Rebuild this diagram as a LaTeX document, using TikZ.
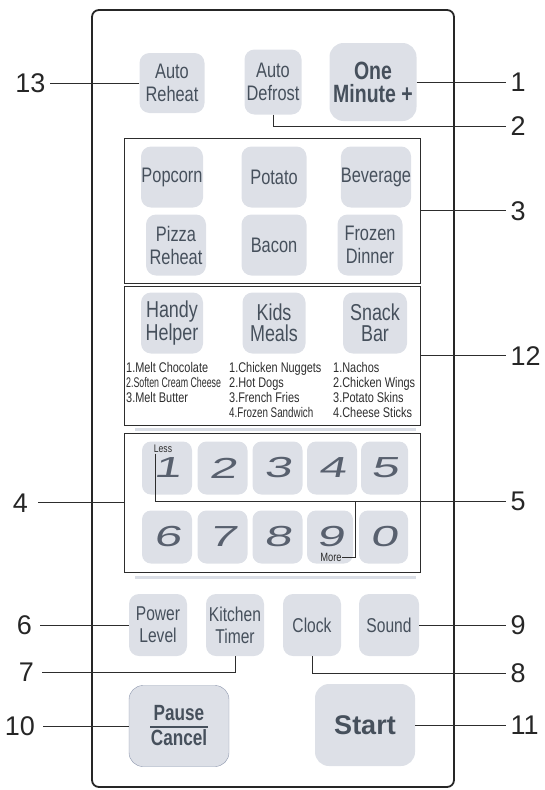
\documentclass[tikz,border=0pt]{standalone}
\usepackage{fontspec}
\usepackage{graphicx}
\setmainfont{Liberation Sans}
\newfontfamily\keyfont[FakeStretch=0.78]{Liberation Sans}
\newfontfamily\digitfont[FakeStretch=1.7,FakeSlant=0.2]{Liberation Sans}
\usetikzlibrary{positioning}
\definecolor{keyfill}{RGB}{221,224,231}
\definecolor{keytext}{RGB}{70,80,92}
\definecolor{digit}{RGB}{88,96,110}
\definecolor{lineclr}{RGB}{45,45,45}
\definecolor{sepclr}{RGB}{218,222,230}
\definecolor{pauseedge}{RGB}{140,150,172}
\tikzset{
  btn/.style={fill=keyfill, rounded corners=10pt, text=keytext, align=center, inner sep=0pt,
    minimum width=62pt, minimum height=61pt, font=\keyfont\fontsize{21}{23}\selectfont},
  lowbtn/.style={btn, minimum width=58pt, minimum height=62pt, font=\keyfont\fontsize{20}{22}\selectfont},
  meal/.style={btn, font=\keyfont\fontsize{23}{21}\selectfont},
  numkey/.style={btn, rounded corners=9pt, minimum width=50pt, minimum height=53pt, text=digit,
    font=\digitfont\fontsize{29}{29}\selectfont},
  group/.style={draw=lineclr, line width=0.9pt, minimum width=296pt},
  menu/.style={anchor=north west, align=left, inner sep=0pt, text=lineclr,
    font=\keyfont\fontsize{14}{15}\selectfont},
  callout/.style={font=\fontsize{27}{27}\selectfont, text=black!85, inner sep=4.5pt},
  lead/.style={draw=lineclr, line width=0.9pt},
  sep/.style={draw=sepclr, line width=3pt}
}

\begin{document}
\begin{tikzpicture}[x=1pt,y=-1pt]
  \useasboundingbox (0,0) rectangle (544,790);
  \node[draw=black!85, line width=1.8pt, rounded corners=7pt, minimum width=362pt,
    minimum height=777pt, inner sep=0pt] (panel) at (273,398.5) {};

  % top row
  \node[btn, minimum width=65pt, minimum height=60pt] (reheat) at (172,83) {Auto\\Reheat};
  \node[btn, minimum width=57pt, minimum height=65pt] (defrost) at (273,82) {Auto\\Defrost};
  \node[btn, minimum width=87pt, minimum height=78pt, rounded corners=14pt,
    font=\keyfont\bfseries\fontsize{25}{23}\selectfont] (oneminute) at (373,82) {One\\Minute +};

  % cook keys
  \node[group, minimum height=145pt] (cookbox) at (272,210.5) {};
  \node[btn] (popcorn) at (172,177) {Popcorn};
  \node[btn, minimum width=65pt] (potato) at (274,177) {Potato};
  \node[btn, minimum width=66pt] (beverage) at (376,177) {Beverage};
  \node[btn, minimum width=60pt] (pizza) at (176,245) {Pizza\\Reheat};
  \node[btn, minimum width=65pt] (bacon) at (274,245) {Bacon};
  \node[btn, minimum width=65pt] (frozen) at (370,245) {Frozen\\Dinner};

  % helper keys
  \node[group, minimum height=139pt] (helperbox) at (272,355.5) {};
  \node[meal] (handy) at (172,323) {Handy\\Helper};
  \node[meal, minimum width=63pt] (kids) at (274,323) {Kids\\Meals};
  \node[meal, minimum width=64pt] (snack) at (375,323) {Snack\\Bar};
  \node[menu] (handylist) at (126,362) {1.Melt Chocolate\\\scalebox{0.81}[1]{2.Soften Cream Cheese}\\3.Melt Butter};
  \node[menu] (kidslist) at (229,362) {1.Chicken Nuggets\\2.Hot Dogs\\3.French Fries\\\scalebox{0.9}[1]{4.Frozen Sandwich}};
  \node[menu] (snacklist) at (333,362) {1.Nachos\\2.Chicken Wings\\3.Potato Skins\\4.Cheese Sticks};

  \draw[sep] (135,429) -- (416,429);
  \draw[sep] (135,577) -- (416,577);

  % number pad
  \node[group, minimum height=139pt] (numbox) at (272,502.5) {};
  \node[numkey] (k1) at (167,468) {1};
  \node[numkey] (k2) at (222.5,468) {2};
  \node[numkey] (k3) at (277.5,468) {3};
  \node[numkey] (k4) at (332,468) {4};
  \node[numkey, minimum width=47pt] (k5) at (384.5,468) {5};
  \node[numkey] (k6) at (167,537) {6};
  \node[numkey] (k7) at (222.5,537) {7};
  \node[numkey] (k8) at (277.5,537) {8};
  \node[numkey, minimum width=46pt] (k9) at (330,537) {9};
  \node[numkey, minimum width=49pt] (k0) at (383.5,537) {0};
  \node[font=\keyfont\fontsize{11}{11}\selectfont, text=lineclr, inner sep=0.5pt] (less) at (163,449) {Less};
  \node[font=\keyfont\fontsize{12}{12}\selectfont, text=lineclr, inner sep=0.5pt] (more) at (331,557) {More};
  \coordinate (j5) at (355,501);

  % bottom rows
  \node[lowbtn] (power) at (158,625) {Power\\Level};
  \node[lowbtn] (timer) at (235,625) {Kitchen\\Timer};
  \node[lowbtn] (clock) at (312,625) {Clock};
  \node[lowbtn, minimum width=60pt] (sound) at (389,625) {Sound};
  \node[btn, draw=pauseedge, minimum width=100pt, minimum height=81pt, rounded corners=14pt,
    font=\keyfont\bfseries\fontsize{22}{25}\selectfont] (pause) at (179,726) {Pause\\Cancel};
  \draw[line width=1.5pt, draw=keytext] ([xshift=-29pt,yshift=-1pt]pause.center) -- ([xshift=29pt,yshift=-1pt]pause.center);
  \node[btn, minimum width=100pt, minimum height=82pt, rounded corners=14pt,
    font=\bfseries\fontsize{27}{27}\selectfont] (start) at (365,725) {Start};

  % callouts
  \node[callout, anchor=east] (c13) at (50,83) {13};
  \node[callout, anchor=west] (c1) at (506,82) {1};
  \node[callout, anchor=west] (c2) at (506,126) {2};
  \node[callout, anchor=west] (c3) at (506,211) {3};
  \node[callout, anchor=west] (c12) at (506,356) {12};
  \node[callout, anchor=east, inner xsep=10pt] (c4) at (38,503) {4};
  \node[callout, anchor=west] (c5) at (506,501) {5};
  \node[callout, anchor=east, inner xsep=8pt] (c6) at (40,625) {6};
  \node[callout, anchor=east, inner xsep=8pt] (c7) at (42,672) {7};
  \node[callout, anchor=west] (c8) at (506,673) {8};
  \node[callout, anchor=west] (c9) at (506,625) {9};
  \node[callout, anchor=east, inner xsep=8pt] (c10) at (43,726) {10};
  \node[callout, anchor=west] (c11) at (506,725) {11};

  \draw[lead] (reheat.west) -- (reheat.west -| c13.east);
  \draw[lead] (oneminute.east) -- (oneminute.east -| c1.west);
  \draw[lead] (defrost.south) |- (c2.west);
  \draw[lead] (cookbox.east) -- (cookbox.east -| c3.west);
  \draw[lead] (helperbox.east) -- (helperbox.east -| c12.west);
  \draw[lead] (numbox.west) -- (numbox.west -| c4.east);
  \draw[lead] ([xshift=2pt]less.south west) |- (c5.west);
  \draw[lead] (more.east) -| (j5);
  \draw[lead] (power.west) -- (power.west -| c6.east);
  \draw[lead] (timer.south) |- (c7.east);
  \draw[lead] (clock.south) |- (c8.west);
  \draw[lead] (sound.east) -- (sound.east -| c9.west);
  \draw[lead] (pause.west) -- (pause.west -| c10.east);
  \draw[lead] (start.east) -- (start.east -| c11.west);
\end{tikzpicture}
\end{document}
